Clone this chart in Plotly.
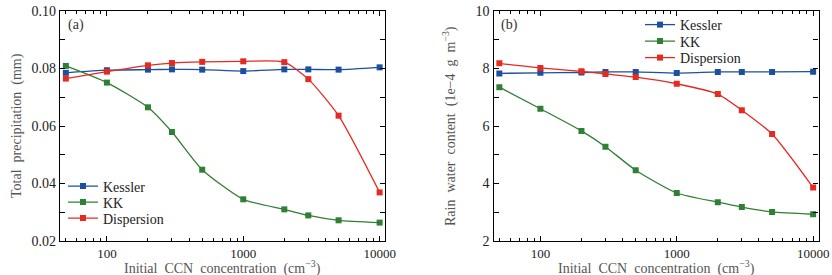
import numpy as np
import plotly.graph_objects as go

ccn = [50, 100, 200, 300, 500, 1000, 2000, 3000, 5000, 10000]

precip_kessler = [0.0785, 0.0794, 0.0796, 0.0797, 0.0796, 0.0791, 0.0797, 0.0797, 0.0796, 0.0804]
precip_kk = [0.0809, 0.0751, 0.0665, 0.0579, 0.0448, 0.0345, 0.0310, 0.0289, 0.0272, 0.0264]
precip_disp = [0.0765, 0.0789, 0.0811, 0.0819, 0.0823, 0.0825, 0.0822, 0.0763, 0.0636, 0.0369]

rwc_kessler = [7.83, 7.85, 7.86, 7.88, 7.88, 7.84, 7.88, 7.88, 7.88, 7.89]
rwc_kk = [7.35, 6.60, 5.83, 5.28, 4.46, 3.67, 3.35, 3.18, 3.01, 2.93]
rwc_disp = [8.18, 8.02, 7.90, 7.81, 7.70, 7.47, 7.11, 6.55, 5.72, 3.86]

series_names = ["Kessler", "KK", "Dispersion"]
colors = ["#1c4f9e", "#2f7f35", "#e52a20"]

xtick_vals = [100, 1000, 10000]
xtick_text = ["100", "1000", "10000"]

FONT = "Liberation Serif"

W, H = 832, 275

fig = go.Figure()

panel_a = [precip_kessler, precip_kk, precip_disp]
panel_b = [rwc_kessler, rwc_kk, rwc_disp]

# one legend per entry so that rows can be spaced like the reference
legend_rows_a = [186.5, 202.5, 218.5]
legend_rows_b = [25, 41.5, 58]
legend_ids_a = ["legend", "legend2", "legend3"]
legend_ids_b = ["legend4", "legend5", "legend6"]

for name, col, ya, lid in zip(series_names, colors, panel_a, legend_ids_a):
    fig.add_trace(go.Scatter(
        x=ccn, y=ya, name=name, mode="lines+markers",
        line=dict(color=col, width=1.3, shape="spline", smoothing=0.6),
        marker=dict(symbol="square", size=6, color=col),
        xaxis="x", yaxis="y", legend=lid))

for name, col, yb, lid in zip(series_names, colors, panel_b, legend_ids_b):
    fig.add_trace(go.Scatter(
        x=ccn, y=yb, name=name, mode="lines+markers",
        line=dict(color=col, width=1.3, shape="spline", smoothing=0.6),
        marker=dict(symbol="square", size=6, color=col),
        xaxis="x2", yaxis="y2", legend=lid))

xr = [np.log10(45.3), np.log10(10950)]

def xaxis_cfg(domain, anchor):
    return dict(
        domain=domain, anchor=anchor, type="log", range=xr, automargin=False,
        tickvals=xtick_vals, ticktext=xtick_text,
        ticks="inside", ticklen=5, tickwidth=1, tickcolor="black",
        minor=dict(ticks="inside", ticklen=3, tickcolor="black",
                   tickvals=[50, 60, 70, 80, 90, 200, 300, 400, 500, 600, 700, 800, 900,
                             2000, 3000, 4000, 5000, 6000, 7000, 8000, 9000]),
        showline=True, linecolor="black", linewidth=1.2, mirror="ticks",
        showgrid=False, zeroline=False,
        tickfont=dict(family=FONT, size=13, color="#222"),
    )

def yaxis_cfg(domain, anchor, rng, dtick, minor_dtick, fmt):
    return dict(
        domain=domain, anchor=anchor, range=rng, dtick=dtick, tick0=rng[0],
        tickformat=fmt, automargin=False,
        ticks="inside", ticklen=5, tickwidth=1, tickcolor="black",
        minor=dict(ticks="inside", ticklen=5, tickcolor="black", dtick=minor_dtick),
        showline=True, linecolor="black", linewidth=1.2, mirror="ticks",
        showgrid=False, zeroline=False,
        tickfont=dict(family=FONT, size=14, color="#222"),
    )

ydom = [1 - 241 / H, 1 - 11 / H]
xdom_a = [60 / W, 385 / W]
xdom_b = [493.5 / W, 818.5 / W]

title_font = dict(family=FONT, size=14, color="#555")
ann = [
    dict(text="(a)", x=66 / W, y=1 - 25 / H, xanchor="left", yanchor="middle",
         font=dict(family=FONT, size=14, color="#333")),
    dict(text="(b)", x=499 / W, y=1 - 25 / H, xanchor="left", yanchor="middle",
         font=dict(family=FONT, size=14, color="#333")),
    dict(text="Initial  CCN  concentration  (cm<sup>−3</sup>)",
         x=sum(xdom_a) / 2, y=1 - 267 / H, xanchor="center", yanchor="middle",
         font=title_font),
    dict(text="Initial  CCN  concentration  (cm<sup>−3</sup>)",
         x=sum(xdom_b) / 2, y=1 - 267 / H, xanchor="center", yanchor="middle",
         font=title_font),
    dict(text="Total  precipitation  (mm)", textangle=-90,
         x=17 / W, y=sum(ydom) / 2, xanchor="center", yanchor="middle",
         font=title_font),
    dict(text="Rain  water  content  (1e−4  g  m<sup>−3</sup>)", textangle=-90,
         x=449 / W, y=sum(ydom) / 2, xanchor="center", yanchor="middle",
         font=title_font),
]
for a in ann:
    a.update(xref="paper", yref="paper", showarrow=False)

legend_layout = {}
for lid, row in zip(legend_ids_a, legend_rows_a):
    legend_layout[lid] = dict(x=63 / W, y=1 - row / H, xanchor="left", yanchor="middle",
                              bgcolor="rgba(0,0,0,0)", borderwidth=0,
                              font=dict(family=FONT, size=14, color="#222"), itemwidth=30)
for lid, row in zip(legend_ids_b, legend_rows_b):
    legend_layout[lid] = dict(x=640 / W, y=1 - row / H, xanchor="left", yanchor="middle",
                              bgcolor="rgba(0,0,0,0)", borderwidth=0,
                              font=dict(family=FONT, size=14, color="#222"), itemwidth=30)

fig.update_layout(
    width=W, height=H,
    margin=dict(l=0, r=0, t=0, b=0, autoexpand=False),
    paper_bgcolor="white", plot_bgcolor="white",
    showlegend=True,
    xaxis=xaxis_cfg(xdom_a, "y"),
    yaxis=yaxis_cfg(ydom, "x", [0.02, 0.10], 0.02, 0.01, ".2f"),
    xaxis2=xaxis_cfg(xdom_b, "y2"),
    yaxis2=yaxis_cfg(ydom, "x2", [2, 10], 2, 1, "d"),
    annotations=ann,
    **legend_layout,
)

fig.write_html("out.html", config={"displayModeBar": False},
               post_script="document.body.style.margin='0';document.body.style.overflow='hidden';")
